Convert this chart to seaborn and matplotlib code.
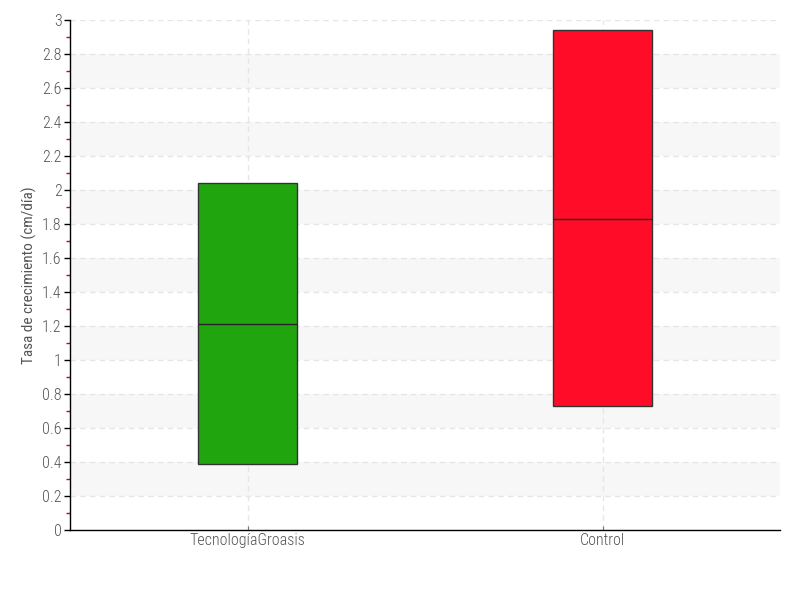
import pandas as pd
import seaborn as sns
import matplotlib.pyplot as plt
from matplotlib.ticker import MultipleLocator, FuncFormatter
from matplotlib import font_manager

# Box values
groups = ["TecnologíaGroasis", "Control"]
lows = [0.39, 0.73]
medians = [1.21, 1.83]
highs = [2.04, 2.94]
colors = ["#21a50f", "#ff0d28"]

# five points per group: quartiles land exactly on low / median / high
rows = []
for g, lo, med, hi in zip(groups, lows, medians, highs):
    for v in [lo, lo, med, hi, hi]:
        rows.append({"grupo": g, "tasa": v})
df = pd.DataFrame(rows)

sns.set_style("white")

# prefer a narrow face, the reference uses a condensed font
fonts = font_manager.fontManager.ttflist
names = {f.name for f in fonts}
family = "DejaVu Sans"
for cand in ["Roboto Condensed", "Liberation Sans Narrow", "Open Sans Condensed"]:
    if cand in names:
        family = cand
        break
plt.rcParams["font.family"] = [family, "DejaVu Sans"]
plt.rcParams["font.weight"] = "light"

fig = plt.figure(figsize=(8, 6), dpi=100)
ax = fig.add_axes([0.0875, 0.1167, 0.8875, 0.85])

# alternating light bands
for y0 in [0.2, 0.6, 1.0, 1.4, 1.8, 2.2, 2.6]:
    ax.axhspan(y0, y0 + 0.2, color="#f7f7f7", zorder=0, lw=0)

sns.boxplot(data=df, x="grupo", y="tasa", hue="grupo", palette=colors,
            order=groups, width=0.28, whis=0, showcaps=False, fliersize=0,
            linewidth=1, linecolor="#333333", saturation=1, legend=False,
            ax=ax, zorder=3,
            medianprops={"color": "#222222", "linewidth": 1})

ax.set_xlim(-0.5, 1.5)
ax.set_ylim(0, 3)
ax.yaxis.set_major_locator(MultipleLocator(0.2))
ax.yaxis.set_minor_locator(MultipleLocator(0.1))
ax.yaxis.set_major_formatter(FuncFormatter(lambda v, p: f"{v:g}"))
ax.grid(True, which="major", axis="both", color="#e6e6e6", linestyle=(0, (4, 3)), linewidth=1)
ax.set_axisbelow(True)

for s in ["top", "right"]:
    ax.spines[s].set_visible(False)
for s in ["left", "bottom"]:
    ax.spines[s].set_color("black")
    ax.spines[s].set_linewidth(1)

ax.tick_params(axis="y", which="major", left=True, length=4, width=1, color="black",
               labelsize=11.5, labelcolor="#555555", pad=2)
ax.tick_params(axis="y", which="minor", left=True, length=3, width=1, color="#e00000")
ax.tick_params(axis="x", bottom=True, direction="in", length=3, color="#777777",
               labelsize=11.5, labelcolor="#555555", pad=2)

ax.set_xlabel("")
ax.set_ylabel("Tasa de crecimiento (cm/día)", fontsize=11, color="#555555")
ax.yaxis.set_label_coords(-0.046, 0.5)

fig.savefig("out.png", dpi=100)
